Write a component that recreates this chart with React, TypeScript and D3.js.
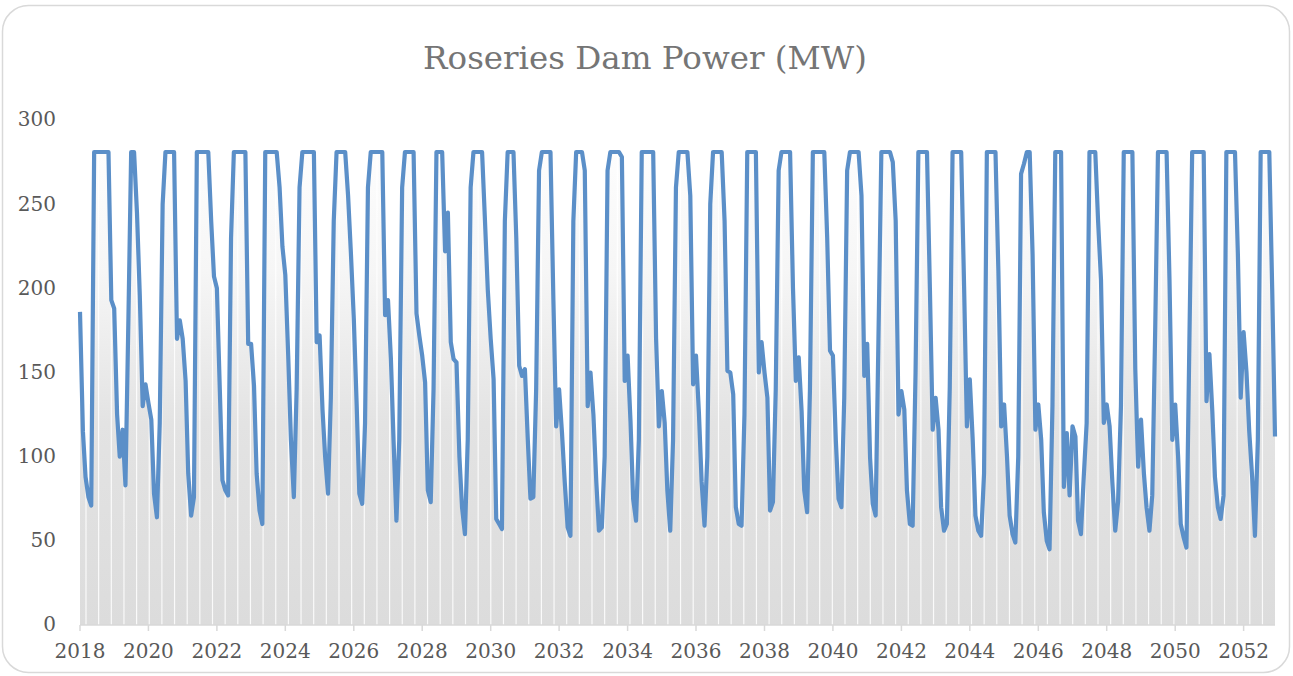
import * as d3 from 'd3';
import React, { useEffect, useRef } from 'react';

// Chart text
const TITLE = 'Roseries Dam Power (MW)';

// Monthly power output (MW), one row per year, Jan 2018 .. Dec 2052
const powerMW = [
  186, 115, 88, 76, 71, 281, 281, 281, 281, 281, 281, 193, // 2018
  188, 125, 100, 116, 83, 180, 281, 281, 245, 196, 130, 143, // 2019
  132, 122, 78, 64, 120, 250, 281, 281, 281, 281, 170, 181, // 2020
  170, 145, 90, 65, 76, 281, 281, 281, 281, 281, 240, 207, // 2021
  200, 140, 86, 80, 77, 230, 281, 281, 281, 281, 281, 167, // 2022
  167, 142, 90, 68, 60, 281, 281, 281, 281, 281, 260, 225, // 2023
  208, 160, 110, 76, 140, 260, 281, 281, 281, 281, 281, 168, // 2024
  172, 128, 100, 78, 135, 240, 281, 281, 281, 281, 255, 221, // 2025
  182, 130, 78, 72, 120, 260, 281, 281, 281, 281, 281, 184, // 2026
  193, 158, 110, 62, 110, 260, 281, 281, 281, 281, 185, 172, // 2027
  160, 144, 80, 73, 140, 281, 281, 281, 222, 245, 168, 158, // 2028
  156, 100, 70, 54, 110, 260, 281, 281, 281, 281, 240, 199, // 2029
  170, 146, 63, 60, 57, 240, 281, 281, 281, 230, 154, 148, // 2030
  152, 110, 75, 76, 140, 270, 281, 281, 281, 281, 193, 118, // 2031
  140, 114, 85, 58, 53, 240, 281, 281, 281, 270, 130, 150, // 2032
  125, 85, 56, 58, 100, 270, 281, 281, 281, 281, 278, 145, // 2033
  160, 121, 75, 62, 110, 281, 281, 281, 281, 281, 170, 118, // 2034
  139, 120, 80, 56, 110, 260, 281, 281, 281, 281, 255, 143, // 2035
  160, 126, 85, 59, 100, 250, 281, 281, 281, 281, 240, 151, // 2036
  150, 137, 70, 60, 59, 125, 281, 281, 281, 281, 150, 168, // 2037
  150, 135, 68, 73, 140, 270, 281, 281, 281, 281, 200, 145, // 2038
  159, 127, 80, 67, 140, 281, 281, 281, 281, 281, 230, 163, // 2039
  160, 110, 75, 70, 135, 270, 281, 281, 281, 281, 255, 148, // 2040
  167, 99, 72, 65, 170, 281, 281, 281, 281, 275, 240, 125, // 2041
  139, 128, 80, 60, 59, 150, 281, 281, 281, 281, 200, 116, // 2042
  135, 116, 70, 56, 60, 141, 281, 281, 281, 281, 201, 118, // 2043
  146, 110, 65, 56, 53, 90, 281, 281, 281, 281, 210, 118, // 2044
  131, 100, 65, 54, 49, 100, 268, 274, 281, 281, 220, 116, // 2045
  131, 110, 67, 50, 45, 130, 281, 281, 281, 82, 114, 77, // 2046
  118, 112, 62, 54, 88, 120, 281, 281, 281, 240, 205, 120, // 2047
  131, 118, 85, 56, 73, 130, 281, 281, 281, 281, 152, 94, // 2048
  122, 90, 70, 56, 77, 174, 281, 281, 281, 281, 205, 110, // 2049
  131, 100, 60, 52, 46, 167, 281, 281, 281, 281, 281, 133, // 2050
  161, 127, 88, 70, 63, 77, 281, 281, 281, 281, 220, 135, // 2051
  174, 150, 115, 88, 53, 110, 281, 281, 281, 281, 200, 112, // 2052
];

const yTicks = [0, 50, 100, 150, 200, 250, 300];
const xTickYears = [2018, 2020, 2022, 2024, 2026, 2028, 2030, 2032, 2034, 2036,
  2038, 2040, 2042, 2044, 2046, 2048, 2050, 2052];

const W = 1293;
const H = 676;

const RoseriesChart = () => {
  const svgRef = useRef(null);

  useEffect(() => {
    drawChart();
  }, []);

  const drawChart = () => {
    const svg = d3.select(svgRef.current);
    svg.selectAll('*').remove();

    const margin = { left: 80, right: 18, top: 120, bottom: 51 };
    const data = powerMW.map((v, i) => ({ date: new Date(2018, i, 1), value: v }));

    const x = d3.scaleTime()
      .domain([data[0].date, data[data.length - 1].date])
      .range([margin.left, W - margin.right]);
    const y = d3.scaleLinear()
      .domain([0, 300])
      .range([H - margin.bottom, margin.top]);

    // outer frame
    svg.append('rect')
      .attr('x', 2.5).attr('y', 5.5)
      .attr('width', W - 6).attr('height', H - 9)
      .attr('rx', 26).attr('ry', 26)
      .attr('fill', '#ffffff')
      .attr('stroke', '#d9d9d9')
      .attr('stroke-width', 1.5);

    // title
    svg.append('text')
      .text(TITLE)
      .attr('x', 645).attr('y', 69)
      .attr('text-anchor', 'middle')
      .attr('font-family', 'DejaVu Serif')
      .attr('font-size', 32.5)
      .attr('fill', '#757575');

    const defs = svg.append('defs');
    const grad = defs.append('linearGradient')
      .attr('id', 'areaFade')
      .attr('gradientUnits', 'userSpaceOnUse')
      .attr('x1', 0).attr('x2', 0)
      .attr('y1', y(300)).attr('y2', y(0));
    grad.append('stop').attr('offset', 0).attr('stop-color', '#ffffff');
    grad.append('stop').attr('offset', 0.3).attr('stop-color', '#f6f6f6');
    grad.append('stop').attr('offset', 0.6).attr('stop-color', '#e3e3e3');
    grad.append('stop').attr('offset', 1).attr('stop-color', '#dcdcdc');

    const area = d3.area()
      .x(d => x(d.date))
      .y0(y(0))
      .y1(d => y(d.value));

    defs.append('clipPath').attr('id', 'areaClip')
      .append('path').attr('d', area(data));

    svg.append('path')
      .attr('d', area(data))
      .attr('fill', 'url(#areaFade)');

    // thin white seams across the filled area
    const seams = d3.timeDay.range(new Date(2018, 2, 6), new Date(2052, 11, 1), 135);
    svg.append('g')
      .attr('clip-path', 'url(#areaClip)')
      .selectAll('line')
      .data(seams)
      .enter().append('line')
      .attr('x1', d => x(d)).attr('x2', d => x(d))
      .attr('y1', y(300)).attr('y2', y(0))
      .attr('stroke', '#ffffff')
      .attr('stroke-width', 1.2)
      .attr('opacity', 0.85);

    // x axis
    const xAxis = svg.append('g');
    xAxis.append('line')
      .attr('x1', x.range()[0]).attr('x2', x.range()[1])
      .attr('y1', y(0)).attr('y2', y(0))
      .attr('stroke', '#d9d9d9')
      .attr('stroke-width', 1.5);
    const xt = xAxis.selectAll('g.tick')
      .data(xTickYears)
      .enter().append('g')
      .attr('class', 'tick')
      .attr('transform', d => 'translate(' + x(new Date(d, 0, 1)) + ',0)');
    xt.append('line')
      .attr('y1', y(0)).attr('y2', y(0) + 6)
      .attr('stroke', '#d9d9d9')
      .attr('stroke-width', 1.5);
    xt.append('text')
      .text(d => d)
      .attr('y', y(0) + 27)
      .attr('dy', '0.32em')
      .attr('text-anchor', 'middle')
      .attr('font-family', 'DejaVu Serif')
      .attr('font-size', 20)
      .attr('fill', '#595959');

    // y labels
    svg.append('g')
      .selectAll('text')
      .data(yTicks)
      .enter().append('text')
      .text(d => d)
      .attr('x', 56)
      .attr('y', d => y(d))
      .attr('dy', '0.32em')
      .attr('text-anchor', 'end')
      .attr('font-family', 'DejaVu Serif')
      .attr('font-size', 20)
      .attr('fill', '#595959');

    // power line
    const line = d3.line()
      .x(d => x(d.date))
      .y(d => y(d.value));
    svg.append('path')
      .attr('d', line(data))
      .attr('fill', 'none')
      .attr('stroke', '#5b8fc8')
      .attr('stroke-width', 4.2)
      .attr('stroke-linejoin', 'round');
  };

  return (
    <svg ref={svgRef} width={W} height={H}
      style={{ position: 'absolute', left: 0, top: 0, background: '#ffffff' }} />
  );
};

export default function App() {
  return <RoseriesChart />;
}
